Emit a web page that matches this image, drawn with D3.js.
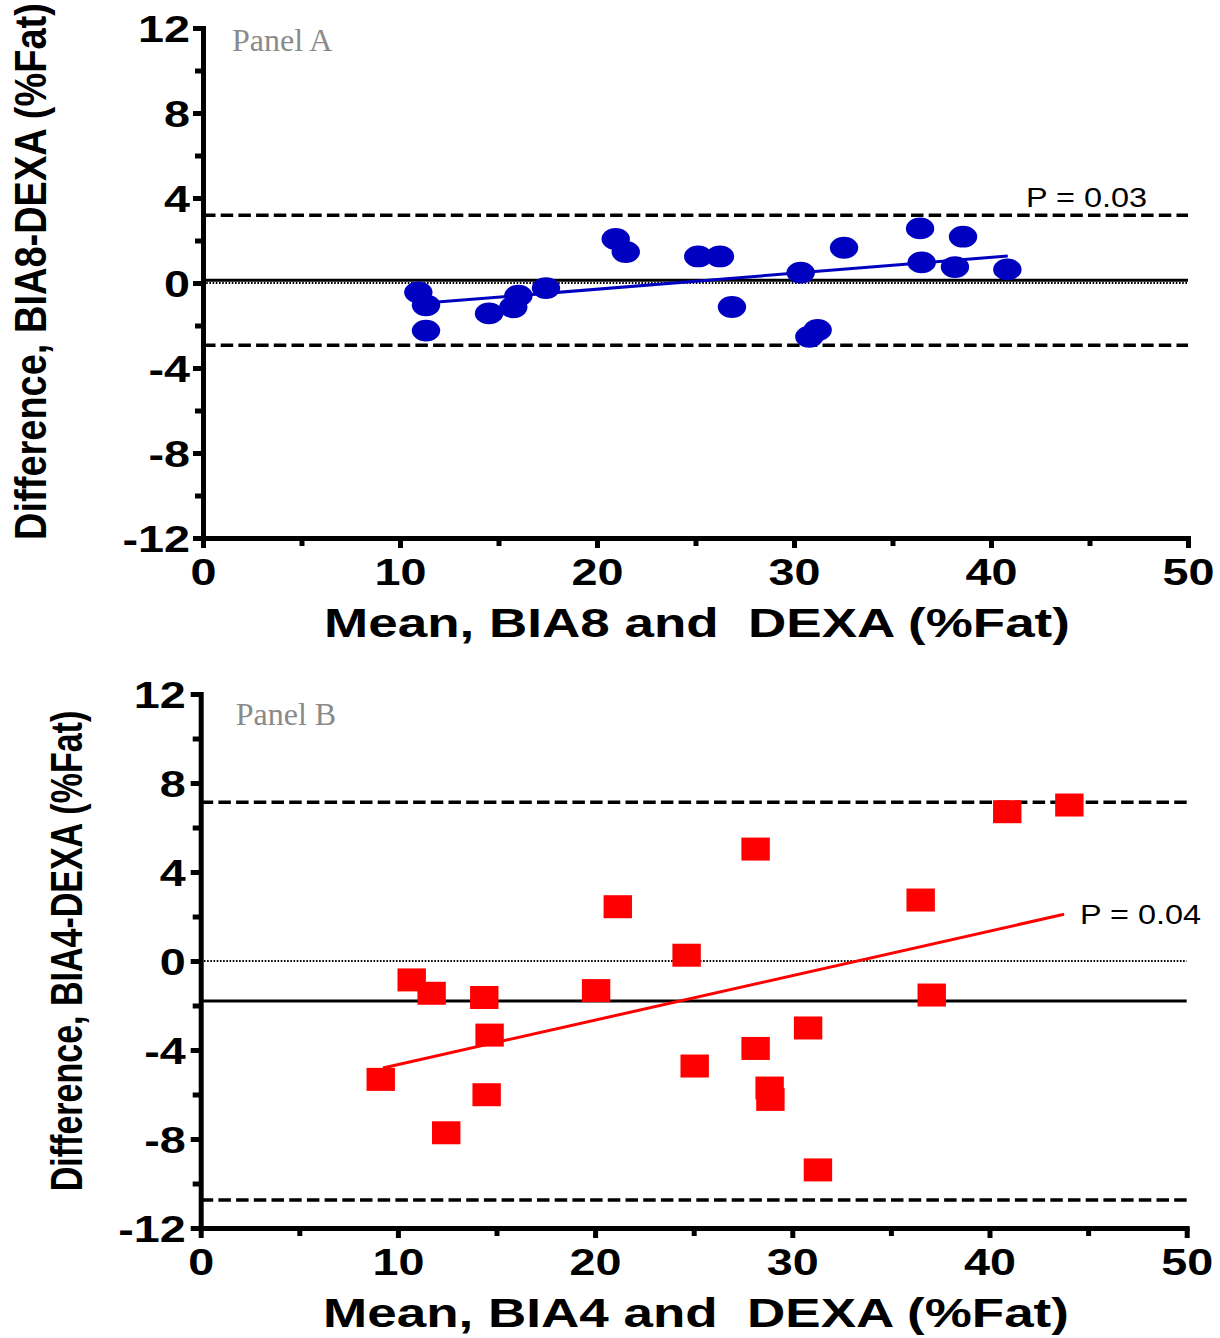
<!DOCTYPE html>
<html><head><meta charset="utf-8">
<script src="https://cdn.jsdelivr.net/npm/d3@7"></script>
<style>body{margin:0;background:#fff} svg{display:block} text{white-space:pre}</style>
</head><body>
<script>
// ---- data ----
const xTicks=[0,10,20,30,40,50];
const xMinorTicks=[5,15,25,35,45];
const yTicks=[-12,-8,-4,0,4,8,12];
const yMinorTicks=[-10,-6,-2,2,6,10];

const meanA=[10.93,11.32,11.32,14.52,15.75,16.01,17.41,20.95,21.46,25.14,26.24,26.85,30.34,30.78,31.20,32.54,36.40,36.48,38.58,38.17,40.83];
const diffA=[-0.44,-1.05,-2.24,-1.43,-1.14,-0.60,-0.24,2.07,1.46,1.25,1.25,-1.13,0.49,-2.53,-2.21,1.66,2.57,0.97,2.18,0.75,0.64];
const limitsA=[-2.93,0.13,3.19]; // lower, bias, upper
const regA=[[10.93,-0.97],[40.85,1.27]];

const meanB=[9.13,10.70,11.71,12.45,14.38,14.65,14.50,20.05,21.15,24.64,25.05,28.14,28.14,28.85,28.89,30.80,31.30,36.51,37.07,40.90,44.05];
const diffB=[-5.32,-0.85,-1.45,-7.72,-1.64,-3.33,-6.01,-1.33,2.44,0.26,-4.72,5.03,-3.93,-5.71,-6.22,-3.01,-9.39,2.74,-1.53,6.71,7.01];
const limitsB=[-10.74,-1.80,7.13];
const regB=[[9.24,-4.81],[43.78,2.10]];

const svg=d3.select('body').append('svg').attr('width',1220).attr('height',1338);
const SANS="'Liberation Sans', Arial, Helvetica, sans-serif";
const SERIF="'Liberation Serif', 'Times New Roman', serif";

function panel(cfg){
  const x=d3.scaleLinear().domain([0,50]).range([cfg.x0,cfg.x1]);
  const y=d3.scaleLinear().domain([-12,12]).range([cfg.yBot,cfg.yTop]);
  const g=svg.append('g');
  const hline=(v)=>g.append('line').attr('x1',x(0)).attr('x2',x(50)).attr('y1',y(v)).attr('y2',y(v)).attr('stroke','#000');
  hline(0).attr('stroke-width',2).attr('stroke-dasharray','1.6,1.6');
  hline(cfg.limits[1]).attr('stroke-width',3);
  hline(cfg.limits[0]).attr('stroke-width',3.5).attr('stroke-dasharray','12.5,5.2');
  hline(cfg.limits[2]).attr('stroke-width',3.5).attr('stroke-dasharray','12.5,5.2');
  // regression
  g.append('path').attr('d',d3.line().x(d=>x(d[0])).y(d=>y(d[1]))(cfg.reg))
    .attr('stroke',cfg.color).attr('stroke-width',3).attr('fill','none');
  // markers
  const pts=cfg.xs.map((v,i)=>[v,cfg.ys[i]]);
  if(cfg.shape==='circle'){
    g.selectAll('ellipse.m').data(pts).join('ellipse').attr('cx',d=>x(d[0])).attr('cy',d=>y(d[1]))
      .attr('rx',14.2).attr('ry',10.9).attr('fill',cfg.color);
  } else {
    g.selectAll('rect.m').data(pts).join('rect').attr('x',d=>x(d[0])-14.2).attr('y',d=>y(d[1])-11.5)
      .attr('width',28.4).attr('height',23).attr('fill',cfg.color);
  }
  // axes
  const ya=g.append('g').attr('transform',`translate(${x(0)},0)`)
    .call(d3.axisLeft(y).tickValues(yTicks).tickSize(10).tickSizeOuter(0).tickFormat(d=>String(d)));
  const yam=g.append('g').attr('transform',`translate(${x(0)},0)`)
    .call(d3.axisLeft(y).tickValues(yMinorTicks).tickSize(8).tickSizeOuter(0).tickFormat(''));
  yam.select('.domain').remove();
  const xa=g.append('g').attr('transform',`translate(0,${y(-12)})`)
    .call(d3.axisBottom(x).tickValues(xTicks).tickSize(10).tickSizeOuter(0).tickFormat(d=>String(d)));
  const xam=g.append('g').attr('transform',`translate(0,${y(-12)})`)
    .call(d3.axisBottom(x).tickValues(xMinorTicks).tickSize(8).tickSizeOuter(0).tickFormat(''));
  xam.select('.domain').remove();
  [ya,yam,xa,xam].forEach(a=>{
    a.selectAll('.domain').attr('stroke-width',5).attr('stroke-linecap','square');
    a.selectAll('.tick line').attr('stroke-width',5);
  });
  ya.selectAll('.tick text').attr('x',null).attr('dy',null)
    .attr('transform',`translate(${-cfg.yLabGap},13) scale(1.28,1)`).attr('text-anchor','end')
    .attr('font-family',SANS).attr('font-weight','bold').attr('font-size',36.5).attr('fill','#000');
  xa.selectAll('.tick text').attr('y',null).attr('dy',null)
    .attr('transform',`translate(0,47) scale(1.28,1)`).attr('text-anchor','middle')
    .attr('font-family',SANS).attr('font-weight','bold').attr('font-size',36.5).attr('fill','#000');
  // titles
  g.append('text').text(cfg.xTitle).attr('text-anchor','middle')
    .attr('transform',`translate(${cfg.xTitleX},${y(-12)+99}) scale(1.325,1)`)
    .attr('font-family',SANS).attr('font-weight','bold').attr('font-size',40);
  g.append('text').text(cfg.yTitle).attr('text-anchor','middle')
    .attr('transform',`translate(${cfg.yTitleX},${cfg.yTitleY}) scale(${cfg.yTitleSx},1) rotate(-90)`)
    .attr('font-family',SANS).attr('font-weight','bold').attr('font-size',cfg.yTitleSize);
  g.append('text').text(cfg.panel).attr('x',cfg.panelX).attr('y',cfg.panelY)
    .attr('font-family',SERIF).attr('font-size',32).attr('fill','#8a8a8a');
  g.append('text').text(cfg.p).attr('transform',`translate(${cfg.pX},${cfg.pY}) scale(1.2,1)`)
    .attr('font-family',SANS).attr('font-size',27).attr('fill','#000');
}

panel({x0:203,x1:1188,yTop:28,yBot:538,xs:meanA,ys:diffA,limits:limitsA,reg:regA,color:'#0000c0',shape:'circle',
  yLabGap:13,xTitle:'Mean, BIA8 and  DEXA (%Fat)',xTitleX:697,
  yTitle:'Difference, BIA8-DEXA (%Fat)',yTitleX:46,yTitleY:271.5,yTitleSx:1.19,yTitleSize:38,
  panel:'Panel A',panelX:232,panelY:51,p:'P = 0.03',pX:1026,pY:207});
panel({x0:200.7,x1:1186.7,yTop:694,yBot:1228,xs:meanB,ys:diffB,limits:limitsB,reg:regB,color:'#ff0000',shape:'square',
  yLabGap:15,xTitle:'Mean, BIA4 and  DEXA (%Fat)',xTitleX:696,
  yTitle:'Difference, BIA4-DEXA (%Fat)',yTitleX:82,yTitleY:951,yTitleSx:1.28,yTitleSize:34,
  panel:'Panel B',panelX:235.7,panelY:725,p:'P = 0.04',pX:1080,pY:924.3});
</script>
</body></html>
